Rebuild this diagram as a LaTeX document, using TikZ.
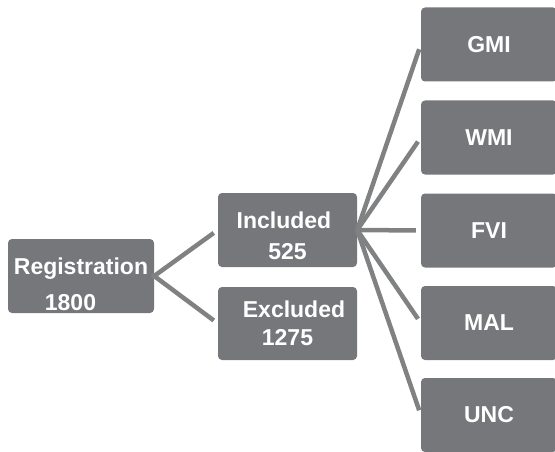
\documentclass[tikz,border=0pt]{standalone}
\usepackage{fontspec}
\setmainfont{Liberation Sans}
\usepackage{tikz}
\definecolor{BoxGray}{RGB}{118,119,123}
\definecolor{LinkGray}{RGB}{128,129,131}
\newcommand{\TopPad}[1]{\rule{0pt}{#1}}
\tikzstyle{BoxFlow}=[rectangle,rounded corners=4pt,fill=BoxGray,text=white,inner sep=0pt,
font=\bfseries\fontsize{23}{31}\selectfont,align=center,minimum width=139pt,minimum height=74pt]
\tikzstyle{LeafFlow}=[BoxFlow,minimum width=136pt]
\tikzstyle{LinkFlow}=[LinkGray,line width=4.5pt,shorten >=5pt]

\begin{document}
\begin{tikzpicture}[x=1pt,y=-1pt]
        \useasboundingbox (0,0) rectangle (555,452);
        \node[BoxFlow,minimum width=146pt](reg)at(81,276){\TopPad{33pt}Registration\\[5pt]1800\hspace*{21pt}};
        \node[BoxFlow](inc)at(287.5,230){\TopPad{29pt}Included\hspace*{7pt}\\525};
        \node[BoxFlow,minimum height=73pt](exc)at(287.5,323.5){\hspace*{13pt}Excluded\\[-3pt]1275};
        \node[LeafFlow](gmi)at(489,44.5){GMI};
        \node[LeafFlow](wmi)at(489,137.5){WMI};
        \node[LeafFlow](fvi)at(489,230.5){FVI};
        \node[LeafFlow](mal)at(489,323){MAL};
        \node[LeafFlow](unc)at(489,415){UNC};
        \draw[LinkFlow,shorten <=-3pt](reg.east)--(inc.west);
        \draw[LinkFlow,shorten <=-3pt](reg.east)--(exc.west);
        \foreach \leaf in {gmi,wmi,fvi,mal,unc}
            \draw[LinkFlow](inc.east)--(\leaf.west);
    \end{tikzpicture}
\end{document}
